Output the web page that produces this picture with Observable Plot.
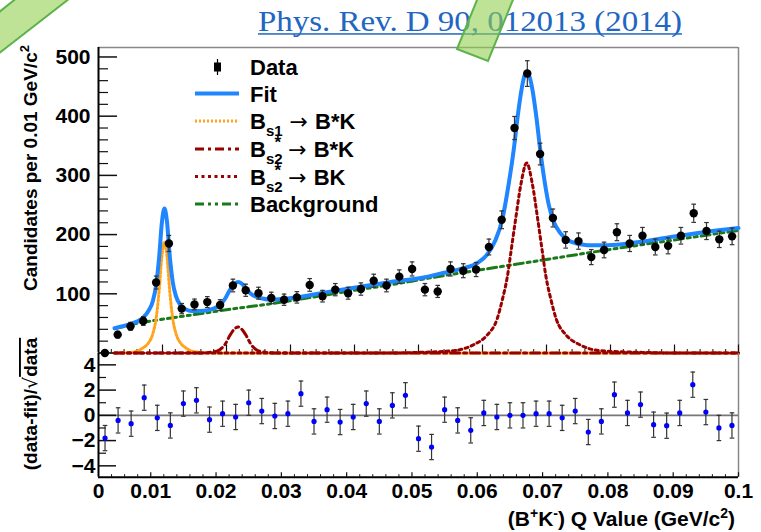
<!DOCTYPE html>
<html>
<head>
<meta charset="utf-8">
<script src="https://cdn.jsdelivr.net/npm/d3@7"></script>
<script src="https://cdn.jsdelivr.net/npm/@observablehq/plot@0.6"></script>
<style>
  body { margin: 0; background: #fff; }
  #chart { position: relative; width: 761px; height: 532px; overflow: hidden; background: #fff; }
  #chart svg { position: absolute; left: 0; top: 0; }
</style>
</head>
<body>
<div id="chart"></div>
<script>
// ---- Data: B+K- Q-value spectrum, 0.002 GeV/c^2 bins ----
const binCenters = [
  0.001, 0.003, 0.005, 0.007, 0.009, 0.011, 0.013, 0.015, 0.017, 0.019,
  0.021, 0.023, 0.025, 0.027, 0.029, 0.031, 0.033, 0.035, 0.037, 0.039,
  0.041, 0.043, 0.045, 0.047, 0.049, 0.051, 0.053, 0.055, 0.057, 0.059,
  0.061, 0.063, 0.065, 0.067, 0.069, 0.071, 0.073, 0.075, 0.077, 0.079,
  0.081, 0.083, 0.085, 0.087, 0.089, 0.091, 0.093, 0.095, 0.097, 0.099
];
const counts = [
  0, 31, 45, 54, 119, 185, 75, 82, 86, 81,
  114, 106, 101, 93, 90, 94, 115, 96, 107, 101,
  108, 122, 114, 129, 142, 107, 104, 142, 139, 141,
  179, 225, 380, 472, 336, 228, 191, 189, 162, 174,
  204, 185, 198, 179, 181, 198, 236, 206, 192, 197
];

// Residuals (data-fit)/sqrt(data) for bins 2..50 of the residual histogram
const pullCenters = binCenters.slice(1);
const pulls = [
  -1.8, -0.4, -0.66, 1.4, -0.2, -0.8, 0.93, 1.19, -0.34, 0.13,
  -0.13, 1.0, 0.34, -0.05, 0.13, 1.72, -0.48, 0.45, -0.53, -0.13,
  0.93, -0.48, 0.79, 1.59, -1.85, -2.51, 0.45, -0.4, -1.19, 0.19,
  -0.13, 0, 0, 0.13, 0.13, -0.2, 0.34, -1.32, -0.48, 1.64,
  0.19, 0.85, -0.74, -0.82, 0.19, 2.43, 0.26, -1.0, -0.8
];

// Total fit curve
const fitQ = [0.0025, 0.005, 0.006, 0.007, 0.0078, 0.0085, 0.009, 0.0095, 0.0099, 0.0103,
  0.0107, 0.0111, 0.0116, 0.0121, 0.0128, 0.0136, 0.0146, 0.016, 0.018, 0.019,
  0.0198, 0.0205, 0.0212, 0.0218, 0.0224, 0.0231, 0.0238, 0.0246, 0.0256, 0.027,
  0.031, 0.0352, 0.0404, 0.0456, 0.051, 0.0534, 0.0566, 0.0592, 0.0607, 0.062,
  0.0631, 0.0641, 0.0649, 0.0655, 0.0661, 0.0666, 0.0669, 0.0673, 0.0678, 0.0684,
  0.069, 0.0697, 0.0704, 0.0712, 0.0722, 0.0738, 0.0764, 0.0795, 0.0842, 0.0894,
  0.0946, 0.1];
const fitN = [42, 49, 53, 60, 71, 88, 114, 165, 220, 244,
  222, 168, 120, 96, 81, 74, 71, 71, 75, 81,
  92, 106, 116, 120, 117, 108, 100, 95, 92, 90,
  94, 102, 111, 120, 128, 134, 142, 152, 166, 190,
  226, 286, 345, 400, 445, 470, 474, 468, 445, 400,
  345, 290, 248, 220, 202, 188, 182, 182, 187, 196,
  204, 211];

// Background component
const bgQ = [0.0025, 0.006, 0.01, 0.015, 0.02, 0.0274, 0.035, 0.04, 0.045, 0.0519, 0.06, 0.0641, 0.07, 0.0764, 0.08, 0.09, 0.1];
const bgN = [41, 50, 57, 65, 73, 84, 97, 106, 114, 127, 141, 148, 158, 169, 175, 191, 207];

// B_s1 -> B*K component
const bs1Q = [0.0025, 0.005, 0.006, 0.007, 0.0078, 0.0085, 0.009, 0.0095, 0.0099, 0.0103,
  0.0107, 0.0111, 0.0116, 0.0121, 0.0128, 0.0136, 0.0146, 0.016, 0.018, 0.1];
const bs1N = [0, 1, 3, 9, 17, 33, 58, 108, 163, 187,
  163, 108, 58, 33, 17, 9, 3, 1, 0, 0];

// B_s2* -> B*K component
const bs2StarQ = [0.0025, 0.016, 0.018, 0.019, 0.0198, 0.0205, 0.0212, 0.0218, 0.0224, 0.0231, 0.0238, 0.0246, 0.0256, 0.028, 0.1];
const bs2StarN = [0, 0, 2, 6, 15, 29, 40, 44, 40, 29, 15, 6, 2, 0, 0];

// B_s2* -> BK component
const bs2Q = [0.0025, 0.045, 0.05, 0.0555, 0.0586, 0.0607, 0.0623, 0.0631, 0.0639, 0.0645,
  0.0652, 0.066, 0.0669, 0.0678, 0.0686, 0.0693, 0.0699, 0.0707, 0.0715, 0.0731,
  0.0752, 0.0783, 0.085, 0.09, 0.1];
const bs2N = [0, 0, 1, 4, 14, 30, 58, 90, 130, 175,
  228, 285, 321, 285, 228, 175, 130, 90, 58, 30,
  14, 4, 1, 0, 0];

// Axis ticks and labels
const yTicksTop = [100, 200, 300, 400, 500];
const yMajorTop = [0, 100, 200, 300, 400, 500];
const yMinorTop = d3.range(20, 516, 20).filter(v => v % 100 !== 0);
const xMajorTop = [0.01, 0.02, 0.03, 0.04, 0.05, 0.06, 0.07, 0.08, 0.09, 0.1];
const xMinorTop = d3.range(1, 50).map(i => i * 0.002).filter((v, i) => (i + 1) % 5 !== 0);
const pullTicks = [-4, -2, 0, 2, 4];
const pullMinor = [-3, -1, 1, 3];
const xTickValuesBottom = [0.002, 0.01, 0.02, 0.03, 0.04, 0.05, 0.06, 0.07, 0.08, 0.09, 0.1];
const xTickLabelsBottom = ["0", "0.01", "0.02", "0.03", "0.04", "0.05", "0.06", "0.07", "0.08", "0.09", "0.1"];
const xMinorBottom = d3.range(2, 50).map(i => i * 0.002).filter((v, i) => (i + 2) % 5 !== 0);

// ---- Layout ----
const W = 761, H = 532;
const frameL = 98, frameR = 738, frameT = 47, split = 352.5, frameB = 476.7;
const plotW = frameR - frameL;
const topH = split - frameT;
const botH = frameB - 353;

const plotStyle = {
  fontFamily: '"Liberation Sans", Arial, Helvetica, sans-serif',
  fontSize: "21px",
  fontWeight: "bold",
  background: "transparent",
  overflow: "visible",
  color: "#000"
};

// Horizontal cap used on error bars
const cap = {
  draw(ctx, size) {
    const r = Math.sqrt(size / Math.PI);
    ctx.moveTo(-r, 0);
    ctx.lineTo(r, 0);
  }
};

const rows = (qs, ns) => qs.map((q, i) => ({q, n: ns[i]}));
const dataRows = binCenters.map((q, i) => ({q, n: counts[i], e: Math.sqrt(counts[i])}));
const barRows = dataRows.filter(d => d.n > 0);
const pullRows = pullCenters.map((q, i) => ({q, p: pulls[i]}));

const DARKRED = "#990000";

const topPlot = Plot.plot({
  width: W, height: H,
  marginLeft: frameL, marginRight: W - frameR, marginTop: frameT, marginBottom: H - split,
  x: {domain: [0, 0.1], axis: null},
  y: {domain: [0, 516]},
  style: plotStyle,
  marks: [
    Plot.ruleY([516], {stroke: "#888", strokeWidth: 1.5}),
    Plot.ruleX([0.1], {stroke: "#888", strokeWidth: 1.5}),
    Plot.ruleY([0], {stroke: "#444", strokeWidth: 1.2}),
    Plot.tickY(yMajorTop, {stroke: "#111", strokeWidth: 1.5, insetRight: plotW - 19}),
    Plot.tickY(yMinorTop, {stroke: "#111", strokeWidth: 1.2, insetRight: plotW - 10}),
    Plot.tickX(xMajorTop, {stroke: "#111", strokeWidth: 1.2, insetTop: topH - 8}),
    Plot.tickX(xMinorTop, {stroke: "#111", strokeWidth: 1, insetTop: topH - 3.5}),
    Plot.axisY({ticks: yTicksTop, tickSize: 0, tickPadding: 8, label: null}),
    // fit components
    Plot.line(rows(bgQ, bgN), {x: "q", y: "n", stroke: "#1a7a1a", strokeWidth: 3, strokeDasharray: "9,4,3,4,3,4", curve: "monotone-x"}),
    Plot.line(rows(bs1Q, bs1N), {x: "q", y: "n", stroke: "#ffa41c", strokeWidth: 3, strokeDasharray: "2,2", curve: "monotone-x"}),
    Plot.line(rows(bs2StarQ, bs2StarN), {x: "q", y: "n", stroke: DARKRED, strokeWidth: 3, strokeDasharray: "9,4,3,4", curve: "monotone-x"}),
    Plot.line(rows(bs2Q, bs2N), {x: "q", y: "n", stroke: DARKRED, strokeWidth: 3, strokeDasharray: "3,3.5", curve: "monotone-x"}),
    // total fit
    Plot.line(rows(fitQ, fitN), {x: "q", y: "n", stroke: "#1f86ff", strokeWidth: 4, curve: "monotone-x"}),
    // data with Poisson errors
    Plot.ruleX(barRows, {x: "q", y1: d => d.n - d.e, y2: d => d.n + d.e, stroke: "#333", strokeWidth: 1.2}),
    Plot.dot(barRows, {x: "q", y: d => d.n - d.e, symbol: cap, r: 2.3, stroke: "#333", fill: "none", strokeWidth: 1.2}),
    Plot.dot(barRows, {x: "q", y: d => d.n + d.e, symbol: cap, r: 2.3, stroke: "#333", fill: "none", strokeWidth: 1.2}),
    Plot.dot(dataRows, {x: "q", y: "n", r: 4.2, fill: "#000", stroke: "none"}),
    Plot.ruleX([0], {stroke: "#000", strokeWidth: 2})
  ]
});

const bottomPlot = Plot.plot({
  width: W, height: H,
  marginLeft: frameL, marginRight: W - frameR, marginTop: 353, marginBottom: H - frameB,
  x: {domain: [0.002, 0.1]},
  y: {domain: [-4.9, 4.9]},
  style: plotStyle,
  marks: [
    Plot.ruleX([0.1], {stroke: "#888", strokeWidth: 1.5}),
    Plot.ruleY([0], {stroke: "#777", strokeWidth: 1.6}),
    Plot.tickY(pullTicks, {stroke: "#111", strokeWidth: 1.5, insetRight: plotW - 18}),
    Plot.tickY(pullMinor, {stroke: "#111", strokeWidth: 1.2, insetRight: plotW - 8}),
    Plot.tickX(xTickValuesBottom.slice(1), {stroke: "#111", strokeWidth: 1.2, insetTop: botH - 4.5}),
    Plot.tickX(xMinorBottom, {stroke: "#111", strokeWidth: 1, insetTop: botH - 2.5}),
    Plot.axisY({ticks: pullTicks, tickSize: 0, tickPadding: 3, label: null}),
    Plot.axisX({
      ticks: xTickValuesBottom,
      tickFormat: d => xTickLabelsBottom[xTickValuesBottom.indexOf(d)],
      tickSize: 0, tickPadding: 6, label: null
    }),
    Plot.ruleX(pullRows, {x: "q", y1: d => d.p - 1, y2: d => d.p + 1, stroke: "#333", strokeWidth: 1.2}),
    Plot.dot(pullRows, {x: "q", y: d => d.p - 1, symbol: cap, r: 2.3, stroke: "#333", fill: "none", strokeWidth: 1.2}),
    Plot.dot(pullRows, {x: "q", y: d => d.p + 1, symbol: cap, r: 2.3, stroke: "#333", fill: "none", strokeWidth: 1.2}),
    Plot.dot(pullRows, {x: "q", y: "p", r: 2.6, fill: "#0000ff", stroke: "none"}),
    Plot.ruleY([-4.9], {stroke: "#000", strokeWidth: 2}),
    Plot.ruleX([0.002], {stroke: "#000", strokeWidth: 2})
  ]
});

const chart = document.getElementById("chart");
chart.appendChild(topPlot);
chart.appendChild(bottomPlot);

// ---- Titles, legend and citation overlay ----
const SANS = '"Liberation Sans", Arial, Helvetica, sans-serif';
const SYMBOL_FONT = '"DejaVu Sans", sans-serif';
const svg = d3.select(chart).append("svg")
  .attr("width", W).attr("height", H)
  .style("font-family", SANS).style("font-weight", "bold");

// highlighter strokes
svg.append("polygon")
  .attr("points", "-16,65 83,-12 62,-38 -36,40")
  .attr("fill", "rgba(146,208,80,0.6)").attr("stroke", "#5db34a").attr("stroke-width", 2);

// citation
const cite = svg.append("g").attr("fill", "#2166c2");
cite.append("text")
  .attr("x", 258).attr("y", 31)
  .attr("font-family", '"Liberation Serif", "DejaVu Serif", serif')
  .attr("font-weight", "normal").attr("font-size", 30)
  .attr("textLength", 424).attr("lengthAdjust", "spacingAndGlyphs")
  .text("Phys. Rev. D 90, 012013 (2014)");
cite.append("rect").attr("x", 258).attr("y", 33.2).attr("width", 424).attr("height", 1.5);

svg.append("polygon")
  .attr("points", "457,49 488,61 519,-15 488,-27")
  .attr("fill", "rgba(146,208,80,0.6)").attr("stroke", "#5db34a").attr("stroke-width", 2);

// y title, upper panel
const yt = svg.append("text")
  .attr("transform", "translate(37,168) rotate(-90)")
  .attr("text-anchor", "middle").attr("font-size", 19);
yt.append("tspan").text("Candidates per 0.01 GeV/c");
yt.append("tspan").attr("font-size", 13).attr("dy", -8).text("2");

// y title, lower panel
const yb = svg.append("text")
  .attr("transform", "translate(37,404) rotate(-90)")
  .attr("text-anchor", "middle").attr("font-size", 19);
yb.append("tspan").text("(data-fit)/");
yb.append("tspan").attr("font-weight", "normal").attr("font-family", SYMBOL_FONT).text("√");
yb.append("tspan").style("text-decoration", "overline").text("data");

// x title, right-aligned; super/subscripts shifted with relative dy
const xt = svg.append("text")
  .attr("x", 735).attr("y", 526)
  .attr("text-anchor", "end").attr("font-size", 21);
xt.append("tspan").text("(B");
xt.append("tspan").attr("font-size", 14).attr("dy", -8).text("+");
xt.append("tspan").attr("dy", 8).text("K");
xt.append("tspan").attr("font-size", 14).attr("dy", -8).text("-");
xt.append("tspan").attr("dy", 8).text(") Q Value (GeV/c");
xt.append("tspan").attr("font-size", 14).attr("dy", -8).text("2");
xt.append("tspan").attr("dy", 8).text(")");

// legend
const legend = svg.append("g");
const legendItems = [
  {y: 67, type: "data"},
  {y: 93.5, stroke: "#1f86ff", width: 4, dash: null},
  {y: 121, stroke: "#ffa41c", width: 3, dash: "2,2"},
  {y: 149, stroke: DARKRED, width: 3, dash: "9,4,3,4"},
  {y: 176.5, stroke: DARKRED, width: 3, dash: "3,3.5"},
  {y: 204, stroke: "#1a7a1a", width: 3, dash: "9,4,3,4,3,4"}
];
legendItems.forEach(it => {
  if (it.type === "data") {
    legend.append("line").attr("x1", 217.5).attr("x2", 217.5).attr("y1", it.y - 8).attr("y2", it.y + 8)
      .attr("stroke", "#000").attr("stroke-width", 1.2);
    legend.append("rect").attr("x", 214).attr("y", it.y - 4.5).attr("width", 7).attr("height", 9).attr("fill", "#000");
  } else {
    legend.append("line").attr("x1", 195).attr("x2", 239).attr("y1", it.y).attr("y2", it.y)
      .attr("stroke", it.stroke).attr("stroke-width", it.width)
      .attr("stroke-dasharray", it.dash);
  }
});

function legendText(cy) {
  return legend.append("text").attr("x", 250).attr("y", cy + 8).attr("font-size", 22);
}
function decayLabel(cy, sub, star, fin) {
  const base = cy + 8;
  const t = legendText(cy);
  t.append("tspan").attr("y", base).text("B");
  t.append("tspan").attr("y", base + 7).attr("font-size", 15).text(sub);
  if (star) t.append("tspan").attr("y", base - 9).attr("dx", -8).attr("font-size", 17).text("*");
  t.append("tspan").attr("y", base).attr("font-weight", "normal").attr("font-family", SYMBOL_FONT).text(" \u2192 ");
  t.append("tspan").attr("y", base).text(fin);
}
legendText(67).text("Data");
legendText(93.5).text("Fit");
decayLabel(121, "s1", false, "B*K");
decayLabel(149, "s2", true, "B*K");
decayLabel(176.5, "s2", true, "BK");
legendText(204).text("Background");
</script>
</body>
</html>
